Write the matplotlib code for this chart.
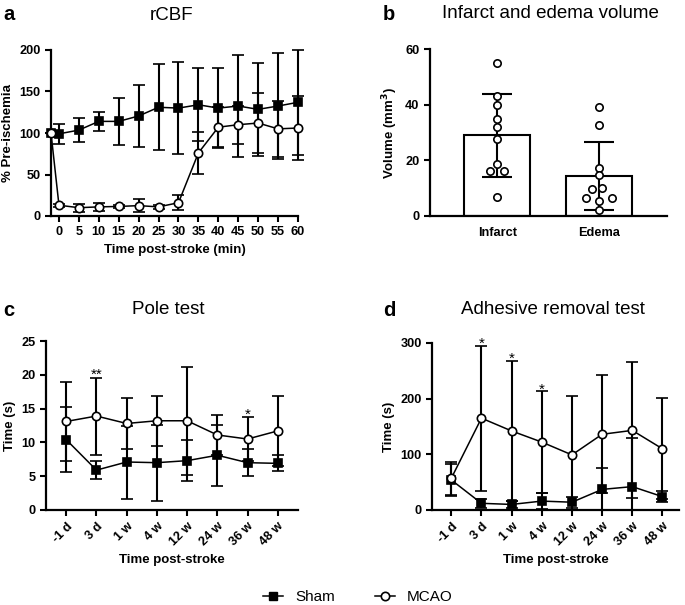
import matplotlib
matplotlib.use("Agg")
import matplotlib.pyplot as plt
from matplotlib.lines import Line2D
import numpy as np

plt.rcParams['font.family'] = ['Liberation Sans', 'DejaVu Sans']

# ---- data ----
# a: rCBF (% pre-ischemia); first point = pre-ischemia baseline
rcbf_time = [-2, 0, 5, 10, 15, 20, 25, 30, 35, 40, 45, 50, 55, 60]
rcbf_sham = [100, 99, 103.5, 114, 114, 120.5, 131, 130, 134, 130, 132.5, 128.5, 132.5, 137]
rcbf_sham_sd = [0, 12, 14.5, 11, 28, 37, 52, 55, 44, 48, 61, 56, 64, 63]
rcbf_mcao = [100, 13, 10, 11, 11.5, 12.5, 11, 16, 76, 107, 110, 112, 105, 106]
rcbf_mcao_sd = [0, 2, 5, 5, 2, 8, 2, 9, 25, 24, 23, 36, 34, 39]

# b: infarct and edema volume (mm3)
vol_groups = ['Infarct', 'Edema']
infarct_pts = [55.1, 43.1, 39.8, 34.9, 31.9, 27.5, 18.6, 16.1, 16.1, 6.8]
edema_pts = [39.1, 32.7, 17.1, 14.7, 10.2, 9.7, 6.3, 6.3, 5.3, 2.2]
infarct_jit = [0, 0, 0, 0, 0, 0, 0, -0.07, 0.07, 0]
edema_jit = [0, 0, 0, 0, 0.03, -0.07, -0.13, 0.13, 0, 0]

# c, d: behaviour over time
time_labels = ['-1 d', '3 d', '1 w', '4 w', '12 w', '24 w', '36 w', '48 w']
pole_sham = [10.4, 5.9, 7.1, 7.0, 7.3, 8.1, 7.0, 6.9]
pole_sham_sd = [4.8, 1.3, 5.4, 5.6, 3.0, 4.5, 2.0, 1.2]
pole_mcao = [13.1, 13.9, 12.8, 13.2, 13.2, 11.1, 10.5, 11.7]
pole_mcao_sd = [5.9, 5.7, 3.8, 3.7, 8.0, 3.0, 3.3, 5.2]
pole_stars = ['', '**', '', '', '', '', '*', '']

adh_sham = [54, 12, 10, 16, 14, 37, 42, 24]
adh_sham_sd = [28, 8, 6, 15, 10, 38, 87, 10]
adh_mcao = [57, 165, 142, 122, 99, 136, 143, 110]
adh_mcao_sd = [30, 130, 126, 91, 106, 106, 122, 91]
adh_stars = ['', '*', '*', '*', '', '', '', '']

W, H = 685, 605
fig = plt.figure(figsize=(W / 100, H / 100), dpi=100)


def px_axes(l, t, r, b):
    return fig.add_axes([l / W, 1 - b / H, (r - l) / W, (b - t) / H])


def style(ax):
    for s in ['top', 'right']:
        ax.spines[s].set_visible(False)
    for s in ['left', 'bottom']:
        ax.spines[s].set_linewidth(1.6)
    ax.tick_params(width=1.5, length=4, labelsize=9.2)
    for lab in ax.get_xticklabels() + ax.get_yticklabels():
        lab.set_fontweight('bold')


def series(ax, x, y, sd, marker, face, z, clip_err=True):
    line, caps, bars = ax.errorbar(
        x, y, yerr=sd, marker=marker, mfc=face, mec='black', color='black',
        lw=1.1, elinewidth=1.5, capsize=4, capthick=1.5, markersize=6,
        markeredgewidth=1.2, zorder=z)
    line.set_clip_on(False)
    if not clip_err:
        for c in caps:
            c.set_clip_on(False)
        for b in bars:
            b.set_clip_on(False)


# ---- a ----
ax = px_axes(51, 50, 298, 216)
series(ax, rcbf_time, rcbf_sham, rcbf_sham_sd, 's', 'black', 3, clip_err=False)
series(ax, rcbf_time, rcbf_mcao, rcbf_mcao_sd, 'o', 'white', 4, clip_err=False)
ax.set_xlim(-2, 60)
ax.set_ylim(0, 200)
ax.set_xticks(range(0, 61, 5))
ax.set_yticks(range(0, 201, 50))
ax.set_xlabel('Time post-stroke (min)', fontweight='bold', fontsize=9.5)
ax.set_ylabel('% Pre-ischemia', fontweight='bold', fontsize=9.5)
style(ax)

# ---- b ----
ax = px_axes(430, 49, 667, 216)
means = [np.mean(infarct_pts), np.mean(edema_pts)]
sds = [np.std(infarct_pts, ddof=1), np.std(edema_pts, ddof=1)]
ax.bar([0, 1], means, width=0.65, color='white', edgecolor='black', lw=1.5, zorder=1)
ax.errorbar([0, 1], means, yerr=sds, fmt='none', ecolor='black',
            elinewidth=1.5, capsize=11, capthick=1.5, zorder=2)
ax.scatter(np.array(infarct_jit), infarct_pts, s=28, facecolor='white',
           edgecolor='black', lw=1.2, zorder=3)
ax.scatter(1 + np.array(edema_jit), edema_pts, s=28, facecolor='white',
           edgecolor='black', lw=1.2, zorder=3)
ax.set_xlim(-0.66, 1.67)
ax.set_ylim(0, 60)
ax.set_yticks([0, 20, 40, 60])
ax.set_xticks([0, 1])
ax.set_xticklabels(vol_groups)
ax.set_ylabel('Volume (mm$^\\mathbf{3}$)', fontweight='bold', fontsize=9.5)
style(ax)
ax.tick_params(axis='x', length=0, pad=8)


def timecourse(ax, sham, sham_sd, mcao, mcao_sd, stars, ymax, step, star_off):
    x = np.arange(len(time_labels))
    series(ax, x, sham, sham_sd, 's', 'black', 3)
    series(ax, x, mcao, mcao_sd, 'o', 'white', 4)
    for xi, m, s, st in zip(x, mcao, mcao_sd, stars):
        if st:
            ax.text(xi, m + s + star_off, st, ha='center', va='bottom',
                    fontsize=11)
    ax.set_ylim(0, ymax)
    ax.set_yticks(np.arange(0, ymax + 1, step))
    ax.set_xticks(x)
    ax.set_xticklabels(time_labels, rotation=45, ha='right',
                       rotation_mode='anchor')
    ax.set_xlabel('Time post-stroke', fontweight='bold', fontsize=9.5)
    ax.set_ylabel('Time (s)', fontweight='bold', fontsize=9.5)
    style(ax)


# ---- c ----
ax = px_axes(46, 341, 298, 510)
timecourse(ax, pole_sham, pole_sham_sd, pole_mcao, pole_mcao_sd,
           pole_stars, 25, 5, -0.7)
ax.set_xlim(-0.67, 7.67)

# ---- d ----
ax = px_axes(432, 343, 679, 510)
timecourse(ax, adh_sham, adh_sham_sd, adh_mcao, adh_mcao_sd,
           adh_stars, 300, 100, -9)
ax.set_xlim(-0.64, 7.55)

# titles and panel letters
for x, y, t in [(172, 16, 'rCBF'), (550, 14, 'Infarct and edema volume'),
                (168, 310, 'Pole test'), (553, 310, 'Adhesive removal test')]:
    fig.text(x / W, 1 - y / H, t, ha='center', va='center', fontsize=13.5)
for x, y, t in [(3, 14, 'a'), (383, 14, 'b'), (3, 310, 'c'), (383, 310, 'd')]:
    fig.text(x / W, 1 - y / H, t, ha='left', va='center', fontsize=14.5,
             fontweight='bold')

handles = [
    Line2D([], [], color='black', lw=1.1, marker='s', mfc='black', mec='black',
           markersize=6),
    Line2D([], [], color='black', lw=1.1, marker='o', mfc='white', mec='black',
           markersize=6, markeredgewidth=1.2),
]
fig.legend(handles, ['Sham', 'MCAO'], loc='center', ncol=2, frameon=False,
           bbox_to_anchor=(358 / W, 1 - 597 / H), fontsize=11,
           handlelength=1.3, columnspacing=2.6, handletextpad=0.8)

fig.savefig('out.png', dpi=100)
